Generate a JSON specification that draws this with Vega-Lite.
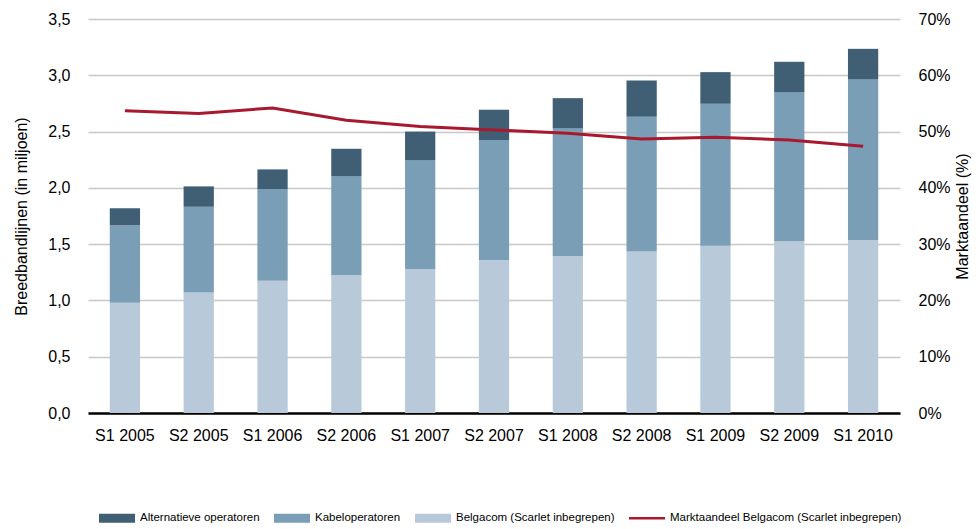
{
  "$schema": "https://vega.github.io/schema/vega-lite/v6.json",
  "width": 812,
  "height": 394,
  "autosize": "none",
  "padding": {"left": 88, "top": 19, "right": 76, "bottom": 116},
  "background": "white",
  "config": {
    "font": "Liberation Sans",
    "view": {"stroke": null},
    "axis": {"labelColor": "#000", "titleColor": "#000", "labelFont": "Liberation Sans", "titleFont": "Liberation Sans", "titleFontWeight": "normal"}
  },
  "datasets": {
    "bars": [
      {"period": "S1 2005", "series": "Belgacom (Scarlet inbegrepen)", "value": 0.98},
      {"period": "S1 2005", "series": "Kabeloperatoren", "value": 0.687},
      {"period": "S1 2005", "series": "Alternatieve operatoren", "value": 0.151},
      {"period": "S2 2005", "series": "Belgacom (Scarlet inbegrepen)", "value": 1.07},
      {"period": "S2 2005", "series": "Kabeloperatoren", "value": 0.762},
      {"period": "S2 2005", "series": "Alternatieve operatoren", "value": 0.181},
      {"period": "S1 2006", "series": "Belgacom (Scarlet inbegrepen)", "value": 1.175},
      {"period": "S1 2006", "series": "Kabeloperatoren", "value": 0.815},
      {"period": "S1 2006", "series": "Alternatieve operatoren", "value": 0.174},
      {"period": "S2 2006", "series": "Belgacom (Scarlet inbegrepen)", "value": 1.225},
      {"period": "S2 2006", "series": "Kabeloperatoren", "value": 0.88},
      {"period": "S2 2006", "series": "Alternatieve operatoren", "value": 0.242},
      {"period": "S1 2007", "series": "Belgacom (Scarlet inbegrepen)", "value": 1.28},
      {"period": "S1 2007", "series": "Kabeloperatoren", "value": 0.967},
      {"period": "S1 2007", "series": "Alternatieve operatoren", "value": 0.253},
      {"period": "S2 2007", "series": "Belgacom (Scarlet inbegrepen)", "value": 1.36},
      {"period": "S2 2007", "series": "Kabeloperatoren", "value": 1.065},
      {"period": "S2 2007", "series": "Alternatieve operatoren", "value": 0.269},
      {"period": "S1 2008", "series": "Belgacom (Scarlet inbegrepen)", "value": 1.395},
      {"period": "S1 2008", "series": "Kabeloperatoren", "value": 1.136},
      {"period": "S1 2008", "series": "Alternatieve operatoren", "value": 0.266},
      {"period": "S2 2008", "series": "Belgacom (Scarlet inbegrepen)", "value": 1.435},
      {"period": "S2 2008", "series": "Kabeloperatoren", "value": 1.197},
      {"period": "S2 2008", "series": "Alternatieve operatoren", "value": 0.322},
      {"period": "S1 2009", "series": "Belgacom (Scarlet inbegrepen)", "value": 1.485},
      {"period": "S1 2009", "series": "Kabeloperatoren", "value": 1.262},
      {"period": "S1 2009", "series": "Alternatieve operatoren", "value": 0.281},
      {"period": "S2 2009", "series": "Belgacom (Scarlet inbegrepen)", "value": 1.525},
      {"period": "S2 2009", "series": "Kabeloperatoren", "value": 1.326},
      {"period": "S2 2009", "series": "Alternatieve operatoren", "value": 0.269},
      {"period": "S1 2010", "series": "Belgacom (Scarlet inbegrepen)", "value": 1.535},
      {"period": "S1 2010", "series": "Kabeloperatoren", "value": 1.431},
      {"period": "S1 2010", "series": "Alternatieve operatoren", "value": 0.269}
    ],
    "share": [
      {"period": "S1 2005", "series": "Marktaandeel Belgacom (Scarlet inbegrepen)", "share": 0.537},
      {"period": "S2 2005", "series": "Marktaandeel Belgacom (Scarlet inbegrepen)", "share": 0.532},
      {"period": "S1 2006", "series": "Marktaandeel Belgacom (Scarlet inbegrepen)", "share": 0.542},
      {"period": "S2 2006", "series": "Marktaandeel Belgacom (Scarlet inbegrepen)", "share": 0.520},
      {"period": "S1 2007", "series": "Marktaandeel Belgacom (Scarlet inbegrepen)", "share": 0.509},
      {"period": "S2 2007", "series": "Marktaandeel Belgacom (Scarlet inbegrepen)", "share": 0.503},
      {"period": "S1 2008", "series": "Marktaandeel Belgacom (Scarlet inbegrepen)", "share": 0.497},
      {"period": "S2 2008", "series": "Marktaandeel Belgacom (Scarlet inbegrepen)", "share": 0.487},
      {"period": "S1 2009", "series": "Marktaandeel Belgacom (Scarlet inbegrepen)", "share": 0.490},
      {"period": "S2 2009", "series": "Marktaandeel Belgacom (Scarlet inbegrepen)", "share": 0.485},
      {"period": "S1 2010", "series": "Marktaandeel Belgacom (Scarlet inbegrepen)", "share": 0.474}
    ]
  },
  "layer": [
    {
      "data": {"name": "bars"},
      "transform": [
        {"calculate": "indexof(['Belgacom (Scarlet inbegrepen)','Kabeloperatoren','Alternatieve operatoren'], datum.series)", "as": "stackorder"}
      ],
      "mark": {"type": "bar"},
      "encoding": {
        "x": {
          "field": "period", "type": "nominal", "sort": null,
          "scale": {"paddingInner": 0.59, "paddingOuter": 0.295},
          "axis": {"title": null, "labelAngle": 0, "labelFontSize": 16, "labelPadding": 14, "ticks": false, "domain": true, "domainColor": "#000", "domainWidth": 2.5, "grid": false}
        },
        "y": {
          "field": "value", "type": "quantitative", "stack": "zero",
          "scale": {"domain": [0, 3.5], "nice": false, "zero": true},
          "axis": {
            "title": "Breedbandlijnen (in miljoen)",
            "values": [0, 0.5, 1, 1.5, 2, 2.5, 3, 3.5],
            "labelExpr": "replace(format(datum.value, '.1f'), '.', ',')",
            "labelFontSize": 16, "labelPadding": 18, "titleFontSize": 16, "titlePadding": 18,
            "grid": true, "gridColor": "#c8c8c8", "gridWidth": 1.5, "domain": false, "ticks": false
          }
        },
        "order": {"field": "stackorder", "type": "quantitative", "sort": "ascending"},
        "color": {
          "field": "series", "type": "nominal",
          "scale": {
            "domain": ["Alternatieve operatoren", "Kabeloperatoren", "Belgacom (Scarlet inbegrepen)", "Marktaandeel Belgacom (Scarlet inbegrepen)"],
            "range": ["#405f74", "#7b9eb7", "#b8cad9", "#a8182f"]
          },
          "legend": {
            "orient": "none", "legendX": 11, "legendY": 481, "direction": "horizontal", "title": null,
            "symbolType": "M-1,-0.25H1V0.25H-1Z", "symbolSize": 1296,
            "labelFont": "Liberation Sans", "labelFontSize": 11.5, "labelColor": "#000", "labelOffset": 5, "labelLimit": 400,
            "columnPadding": 14, "symbolStrokeWidth": 0, "padding": 0,
            "encode": {
              "symbols": {
                "update": {
                  "shape": {"signal": "indexof(datum.value, 'Markt') == 0 ? 'M-1,-0.07H1V0.07H-1Z' : 'M-1,-0.25H1V0.25H-1Z'"},
                  "fill": {"scale": "color", "field": "value"},
                  "strokeWidth": {"value": 0},
                  "opacity": {"value": 1}
                }
              }
            }
          }
        }
      }
    },
    {
      "data": {"name": "share"},
      "mark": {"type": "line", "strokeWidth": 3},
      "encoding": {
        "x": {"field": "period", "type": "nominal", "sort": null},
        "y": {
          "field": "share", "type": "quantitative",
          "scale": {"domain": [0, 0.7], "nice": false, "zero": true},
          "axis": {
            "orient": "right", "title": "Marktaandeel (%)", "format": ".0%",
            "values": [0, 0.1, 0.2, 0.3, 0.4, 0.5, 0.6, 0.7],
            "labelFontSize": 16, "labelPadding": 18, "titleFontSize": 16, "titlePadding": 4, "titleAngle": 270, "titleBaseline": "top",
            "grid": false, "domain": false, "ticks": false
          }
        },
        "color": {"field": "series", "type": "nominal"}
      }
    }
  ],
  "resolve": {"scale": {"y": "independent"}}
}
